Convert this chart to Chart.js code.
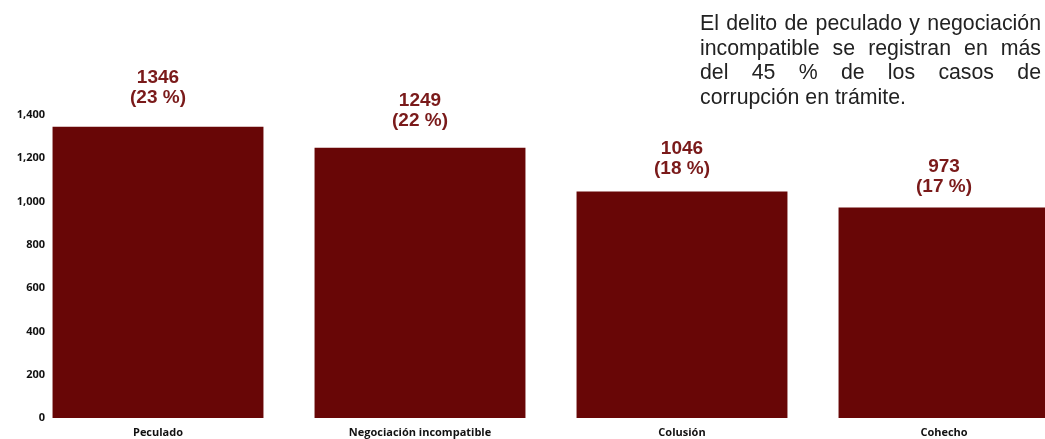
<!DOCTYPE html>
<html>
<head>
<meta charset="utf-8">
<script src="https://cdn.jsdelivr.net/npm/chart.js@4.4.0/dist/chart.umd.min.js"></script>
<style>
    html, body {
        margin: 0;
        padding: 0;
        background: #ffffff;
        overflow: hidden;
    }
    #wrap {
        position: relative;
        width: 1075px;
        height: 439px;
    }
    #note {
        position: absolute;
        left: 700px;
        top: 11px;
        width: 341px;
        font-family: "Liberation Sans", Arial, sans-serif;
        font-size: 21.3px;
        line-height: 24.5px;
        color: #222222;
    }
    #note div {
        text-align: justify;
        text-align-last: justify;
        white-space: nowrap;
    }
    #note div.last {
        text-align-last: left;
    }
</style>
</head>
<body>
<div id="wrap">
    <canvas id="chart" width="1075" height="439"></canvas>
    <div id="note">
        <div>El delito de peculado y negociación</div>
        <div>incompatible se registran en más</div>
        <div>del 45 % de los casos de</div>
        <div class="last">corrupción en trámite.</div>
    </div>
</div>
<script>
const categories = ["Peculado", "Negociación incompatible", "Colusión", "Cohecho"];
const casos = [1346, 1249, 1046, 973];
const porcentajes = ["23 %", "22 %", "18 %", "17 %"];
const yTicks = [0, 200, 400, 600, 800, 1000, 1200, 1400];

// Draws the value and percentage above each bar
const valueLabels = {
    id: "valueLabels",
    afterDatasetsDraw(chart) {
        const ctx = chart.ctx;
        const meta = chart.getDatasetMeta(0);
        const yScale = chart.scales.y;
        ctx.save();
        ctx.fillStyle = "#7a1a1a";
        ctx.font = "bold 19px 'Liberation Sans', Arial, sans-serif";
        ctx.textAlign = "center";
        ctx.textBaseline = "middle";
        meta.data.forEach((bar, i) => {
            const y = yScale.getPixelForValue(casos[i] * 1.1);
            ctx.fillText(String(casos[i]), bar.x, y - 20);
            ctx.fillText("(" + porcentajes[i] + ")", bar.x, y);
        });
        ctx.restore();
    },
};

// Y tick labels drawn by hand so they can sit over the left edge of the plot
const yLabels = {
    id: "yLabels",
    afterDraw(chart) {
        const ctx = chart.ctx;
        const yScale = chart.scales.y;
        ctx.save();
        ctx.fillStyle = "#111111";
        ctx.font = "bold 11px 'Open Sans', sans-serif";
        ctx.textAlign = "right";
        ctx.textBaseline = "middle";
        yTicks.forEach((v) => {
            ctx.fillText(v.toLocaleString("en-US"), 45, yScale.getPixelForValue(v));
        });
        ctx.restore();
    },
};

const ctx = document.getElementById("chart").getContext("2d");
new Chart(ctx, {
    type: "bar",
    data: {
        labels: categories,
        datasets: [
            {
                data: casos,
                backgroundColor: "#680606",
                barPercentage: 0.805,
                categoryPercentage: 1,
            },
        ],
    },
    options: {
        responsive: false,
        animation: false,
        layout: {
            padding: { top: 115, right: 0, bottom: 0, left: 0 },
        },
        plugins: {
            legend: { display: false },
            tooltip: { enabled: false },
        },
        scales: {
            x: {
                afterFit: function (scale) {
                    scale.height = 21;
                },
                grid: { display: false },
                border: { display: false },
                ticks: {
                    color: "#111111",
                    padding: 0,
                    font: { family: "Open Sans", weight: "bold", size: 11 },
                },
            },
            y: {
                min: 0,
                max: 1400,
                afterFit: function (scale) {
                    scale.width = 27;
                },
                grid: { display: false },
                border: { display: false },
                ticks: { display: false },
            },
        },
    },
    plugins: [valueLabels, yLabels],
});
</script>
</body>
</html>
